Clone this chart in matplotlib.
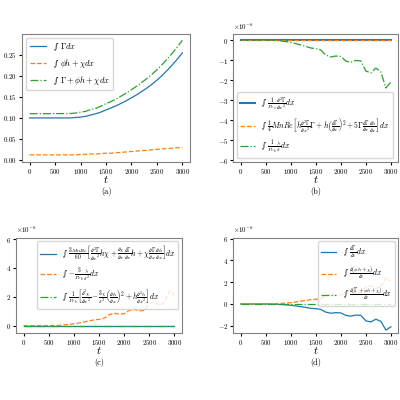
import matplotlib
matplotlib.use("Agg")
import matplotlib.pyplot as plt
import numpy as np

plt.rcParams['font.family'] = ['cmr10', 'DejaVu Serif']
plt.rcParams['mathtext.fontset'] = 'cm'
plt.rcParams['axes.formatter.use_mathtext'] = True
plt.rcParams['font.size'] = 5
plt.rcParams['axes.unicode_minus'] = True

t = np.arange(0, 3001, 100)
growth = np.array([0, 0, 0, 0, 0, 0, 0, 0.02, 0.05, 0.08, 0.12, 0.18, 0.25, 0.32, 0.40, 0.43,
                   0.50, 0.75, 0.85, 0.80, 0.82, 1.05, 1.12, 1.02, 1.05, 1.55, 1.65, 1.40, 1.60,
                   2.40, 2.10]) * 1e-6
gamma_int = np.array([0.1, 0.1, 0.1, 0.1, 0.1, 0.1, 0.1, 0.1, 0.1, 0.101, 0.102, 0.104, 0.107,
                      0.110, 0.114, 0.119, 0.124, 0.129, 0.135, 0.141, 0.148, 0.155, 0.163, 0.171,
                      0.180, 0.190, 0.201, 0.213, 0.226, 0.240, 0.255])
phih_int = np.array([0.012, 0.012, 0.012, 0.012, 0.012, 0.012, 0.012, 0.012, 0.012, 0.012, 0.013,
                     0.013, 0.014, 0.014, 0.015, 0.016, 0.016, 0.017, 0.018, 0.019, 0.020, 0.021,
                     0.022, 0.023, 0.024, 0.025, 0.026, 0.027, 0.028, 0.029, 0.030])
total_int = gamma_int + phih_int - 0.002 + np.linspace(0, 0.002, len(t))
zero = np.zeros_like(t, dtype=float)

I = '∫ '

fig = plt.figure(figsize=(4, 4), dpi=100)
axa = fig.add_axes([0.055, 0.595, 0.42, 0.32])
axb = fig.add_axes([0.583, 0.595, 0.413, 0.32])
axc = fig.add_axes([0.04, 0.168, 0.415, 0.238])
axd = fig.add_axes([0.583, 0.168, 0.413, 0.238])

def lp(size):
    return {'family': 'DejaVu Serif', 'size': size}

axa.plot(t, gamma_int, '-', lw=0.9, label=I + r'$\Gamma dx$')
axa.plot(t, phih_int, '--', lw=0.9, label=I + r'$\phi h+\chi dx$')
axa.plot(t, total_int, '-.', lw=0.9, label=I + r'$\Gamma+\phi h+\chi dx$')
axa.set_ylim(-0.005, 0.3)
axa.set_yticks([0, 0.05, 0.1, 0.15, 0.2, 0.25])
axa.legend(loc='upper left', prop=lp(6))

axb.plot(t, zero, '-', lw=1.5, label=I + r'$\frac{1}{Pe_s}\frac{\partial^2\Gamma}{\partial x^2}dx$')
axb.plot(t, zero, '--', lw=0.9, label=I + r'$\frac{1}{4}MnRe\left[h\frac{\partial^2\Gamma}{\partial x^2}\Gamma+h\left(\frac{\partial\Gamma}{\partial x}\right)^2+5\Gamma\frac{\partial\Gamma}{\partial x}\frac{\partial h}{\partial x}\right]dx$')
axb.plot(t, -growth, '-.', lw=0.9, label=I + r'$\frac{1}{Pe_b}\frac{\lambda}{\delta}dx$')
axb.set_ylim(-6.1e-6, 0.3e-6)
axb.legend(loc='lower left', prop=lp(5.5))

axc.plot(t, zero, '-', lw=0.9, label=I + r'$\frac{3MnRe}{60}\left[\frac{\partial^2\Gamma}{\partial x^2}h\chi+\frac{\partial\chi}{\partial x}\frac{\partial\Gamma}{\partial x}h+\chi\frac{\partial\Gamma}{\partial x}\frac{\partial h}{\partial x}\right]dx$')
axc.plot(t, growth, '--', lw=0.9, label=I + r'$-\frac{3}{Pe_b}\frac{\lambda}{\delta^2}dx$')
axc.plot(t, zero, '-.', lw=0.9, label=I + r'$\frac{1}{Pe_b}\left[\frac{\partial^2\chi}{\partial x^2}-\frac{3\chi}{\delta^2}\left(\frac{\partial h}{\partial x}\right)^2+h\frac{\partial^2 h}{\partial x^2}\right]dx$')
axc.set_ylim(-0.5e-6, 6.1e-6)
axc.legend(loc='upper right', prop=lp(5.5))

axd.plot(t, -growth, '-', lw=0.9, label=I + r'$\frac{\partial\Gamma}{\partial t}dx$')
axd.plot(t, growth, '--', lw=0.9, label=I + r'$\frac{\partial(\phi h+\chi)}{\partial t}dx$')
axd.plot(t, zero, '-.', lw=0.9, label=I + r'$\frac{\partial(\Gamma+\phi h+\chi)}{\partial t}dx$')
axd.set_ylim(-2.65e-6, 6.1e-6)
axd.legend(loc='upper right', prop=lp(5.5))

for ax, lab in [(axa, '(a)'), (axb, '(b)'), (axc, '(c)'), (axd, '(d)')]:
    ax.set_xticks([0, 500, 1000, 1500, 2000, 2500, 3000])
    ax.set_xlim(-150, 3150)
    ax.set_xlabel(r'$t$', fontsize=8, labelpad=-1)
    ax.tick_params(labelsize=5, length=2, pad=1.5)
    ax.annotate(lab, xy=(0.5, 0), xycoords='axes fraction', xytext=(0, -25),
                textcoords='offset pixels', ha='center', va='top', fontsize=6)
    for s in ax.spines.values():
        s.set_edgecolor('0.5')
    ax.yaxis.get_offset_text().set_fontsize(5)

fig.savefig('out.png', dpi=100)
